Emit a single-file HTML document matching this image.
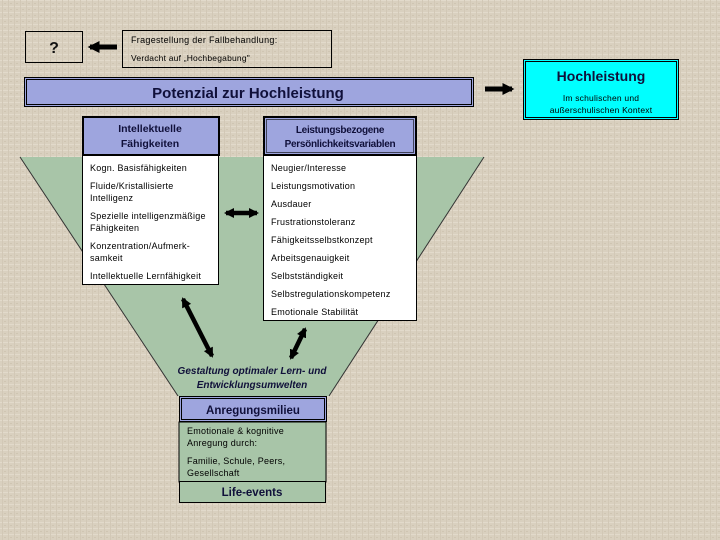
<!DOCTYPE html>
<html><head><meta charset="utf-8"><style>
html,body{margin:0;padding:0;width:720px;height:540px;overflow:hidden;background:#d9d0bf;}
svg{display:block;}
text{font-family:"Liberation Sans",Arial,sans-serif;fill:#000;}
.l{font-size:9px;letter-spacing:0.25px;}
.h{font-size:10.5px;font-weight:bold;fill:#10103a;}
</style></head><body>
<svg width="720" height="540" viewBox="0 0 720 540" xmlns="http://www.w3.org/2000/svg">
<defs>
<pattern id="tex" width="6" height="6" patternUnits="userSpaceOnUse">
<rect width="6" height="6" fill="#d9d0bf"/>
<rect y="0" width="6" height="1" fill="#e2dacb"/>
<rect x="2" width="1" height="6" fill="#d2c8b6"/>
<rect x="4" y="3" width="2" height="1" fill="#cfc5b2"/>
</pattern>
<marker id="ah" viewBox="0 0 10 10" refX="8" refY="5" markerWidth="10" markerHeight="13" markerUnits="userSpaceOnUse" orient="auto-start-reverse">
<path d="M0,0 L10,5 L0,10 z" fill="#000"/>
</marker>
<marker id="ah2" viewBox="0 0 10 10" refX="8" refY="5" markerWidth="12" markerHeight="14" markerUnits="userSpaceOnUse" orient="auto-start-reverse">
<path d="M0,0 L10,5 L0,10 z" fill="#000"/>
</marker>
</defs>
<rect width="720" height="540" fill="url(#tex)"/>

<!-- funnel -->
<polygon points="20,157 484,157 329,396 178,396" fill="#a8c5a8"/>
<line x1="20" y1="157" x2="178" y2="396" stroke="#333" stroke-width="1"/>
<line x1="484" y1="157" x2="329" y2="396" stroke="#333" stroke-width="1"/>

<!-- ? box -->
<rect x="25.5" y="31.5" width="57" height="31" fill="none" stroke="#000" stroke-width="1"/>
<text x="54" y="53" text-anchor="middle" style="font-size:16px;font-weight:bold;fill:#111">?</text>
<!-- left arrow -->
<line x1="117" y1="47" x2="90" y2="47" stroke="#000" stroke-width="5" marker-end="url(#ah2)"/>

<!-- Fragestellung -->
<rect x="122.5" y="30.5" width="209" height="37" fill="none" stroke="#000" stroke-width="1"/>
<text x="131" y="43" style="font-size:9px;letter-spacing:0.3px">Fragestellung der Fallbehandlung:</text>
<text x="131" y="61" style="font-size:8.5px;letter-spacing:0.2px">Verdacht auf „Hochbegabung"</text>

<!-- Potenzial -->
<rect x="24.5" y="77.5" width="449" height="29" fill="#9ea5de" stroke="#000" stroke-width="1"/>
<rect x="26.5" y="79.5" width="445" height="25" fill="none" stroke="#000" stroke-width="1"/>
<text x="248" y="98" text-anchor="middle" style="font-size:15px;font-weight:bold;fill:#10103a">Potenzial zur Hochleistung</text>

<!-- right arrow -->
<line x1="485" y1="89" x2="512" y2="89" stroke="#000" stroke-width="5" marker-end="url(#ah2)"/>

<!-- Hochleistung -->
<rect x="523.5" y="59.5" width="155" height="60" fill="#00ffff" stroke="#000" stroke-width="1"/>
<rect x="525.5" y="61.5" width="151" height="56" fill="none" stroke="#000" stroke-width="1"/>
<text x="601" y="81" text-anchor="middle" style="font-size:14px;font-weight:bold;fill:#10103a">Hochleistung</text>
<text x="601" y="101" text-anchor="middle" style="font-size:8.5px;letter-spacing:0.2px">Im schulischen und</text>
<text x="601" y="113" text-anchor="middle" style="font-size:8.5px;letter-spacing:0.2px">außerschulischen Kontext</text>

<!-- Intellektuelle header -->
<rect x="83" y="117" width="136" height="38" fill="#9ea5de" stroke="#000" stroke-width="2"/>
<text x="150" y="132" text-anchor="middle" class="h">Intellektuelle</text>
<text x="150" y="147" text-anchor="middle" class="h">Fähigkeiten</text>
<!-- Intellektuelle body -->
<rect x="82.5" y="155.5" width="136" height="129" fill="#fff" stroke="#000" stroke-width="1"/>
<text x="90" y="171" class="l">Kogn. Basisfähigkeiten</text>
<text x="90" y="189" class="l">Fluide/Kristallisierte</text>
<text x="90" y="201" class="l">Intelligenz</text>
<text x="90" y="219" class="l">Spezielle intelligenzmäßige</text>
<text x="90" y="231" class="l">Fähigkeiten</text>
<text x="90" y="249" class="l">Konzentration/Aufmerk-</text>
<text x="90" y="261" class="l">samkeit</text>
<text x="90" y="279" class="l">Intellektuelle Lernfähigkeit</text>

<!-- Leistungsbezogene header -->
<rect x="264" y="117" width="152" height="38" fill="#9ea5de" stroke="#000" stroke-width="2"/>
<rect x="266.5" y="119.5" width="147" height="33" fill="none" stroke="#000" stroke-width="0.6"/>
<text x="340" y="133" text-anchor="middle" class="h" style="font-size:10px;letter-spacing:-0.3px">Leistungsbezogene</text>
<text x="340" y="147" text-anchor="middle" class="h" style="font-size:10px;letter-spacing:-0.3px">Persönlichkeitsvariablen</text>
<!-- Leistungsbezogene body -->
<rect x="263.5" y="155.5" width="153" height="165" fill="#fff" stroke="#000" stroke-width="1"/>
<text x="271" y="171" class="l">Neugier/Interesse</text>
<text x="271" y="189" class="l">Leistungsmotivation</text>
<text x="271" y="207" class="l">Ausdauer</text>
<text x="271" y="225" class="l">Frustrationstoleranz</text>
<text x="271" y="243" class="l">Fähigkeitsselbstkonzept</text>
<text x="271" y="261" class="l">Arbeitsgenauigkeit</text>
<text x="271" y="279" class="l">Selbstständigkeit</text>
<text x="271" y="297" class="l">Selbstregulationskompetenz</text>
<text x="271" y="315" class="l">Emotionale Stabilität</text>

<!-- double arrows -->
<line x1="226" y1="213" x2="257" y2="213" stroke="#000" stroke-width="4.5" marker-start="url(#ah)" marker-end="url(#ah)"/>
<line x1="183" y1="299" x2="212" y2="356" stroke="#000" stroke-width="4.5" marker-start="url(#ah)" marker-end="url(#ah)"/>
<line x1="305" y1="329" x2="291" y2="358" stroke="#000" stroke-width="4.5" marker-start="url(#ah)" marker-end="url(#ah)"/>

<!-- Gestaltung -->
<text x="252" y="374" text-anchor="middle" style="font-size:10px;font-weight:bold;font-style:italic;fill:#10103a">Gestaltung optimaler Lern- und</text>
<text x="252" y="388" text-anchor="middle" style="font-size:10px;font-weight:bold;font-style:italic;fill:#10103a">Entwicklungsumwelten</text>

<!-- Anregungsmilieu -->
<rect x="179" y="422" width="147" height="60" fill="#a8c5a8" stroke="#000" stroke-width="1"/>
<rect x="179.5" y="396.5" width="147" height="25" fill="#9ea5de" stroke="#000" stroke-width="1"/>
<rect x="181.5" y="398.5" width="143" height="21" fill="none" stroke="#000" stroke-width="1"/>
<text x="253" y="414" text-anchor="middle" style="font-size:11.5px;font-weight:bold;fill:#10103a">Anregungsmilieu</text>
<text x="187" y="434" class="l">Emotionale &amp; kognitive</text>
<text x="187" y="446" class="l">Anregung durch:</text>
<text x="187" y="464" class="l">Familie, Schule, Peers,</text>
<text x="187" y="476" class="l">Gesellschaft</text>
<rect x="179.5" y="481.5" width="146" height="21" fill="#a8c5a8" stroke="#000" stroke-width="1"/>
<text x="252" y="496" text-anchor="middle" style="font-size:11.5px;font-weight:bold;fill:#10103a">Life-events</text>
</svg>
</body></html>
